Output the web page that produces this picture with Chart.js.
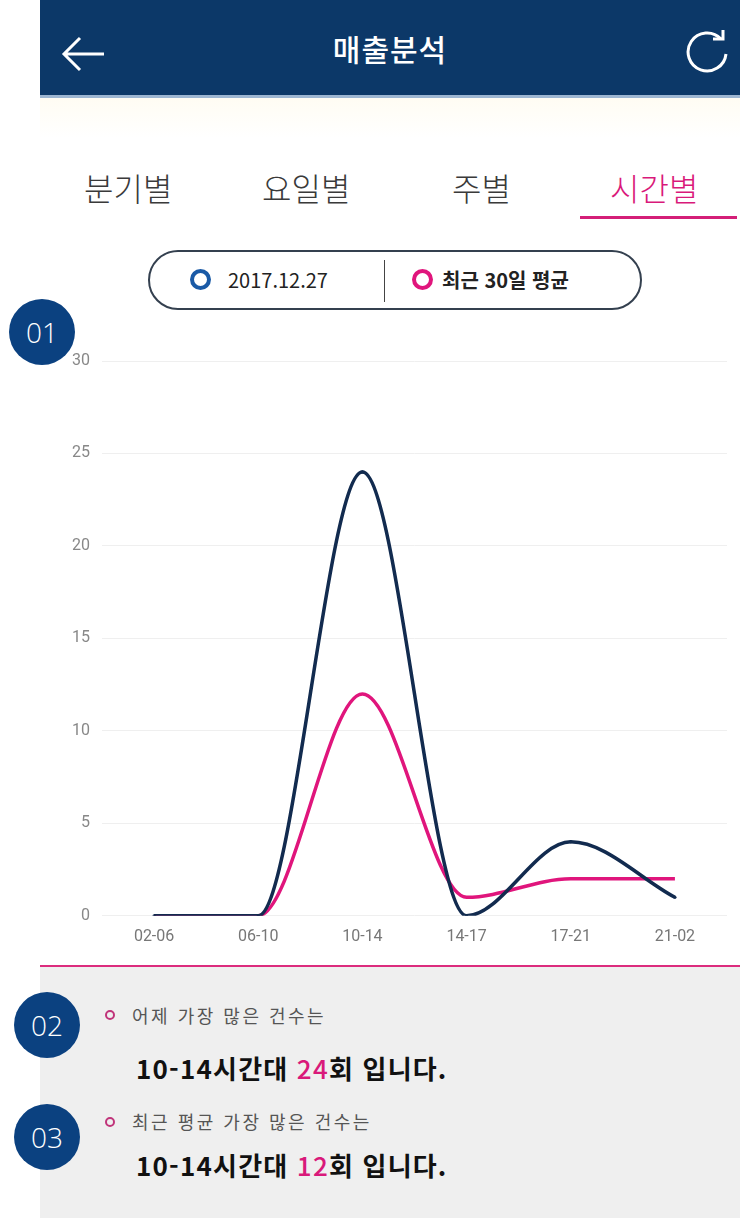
<!DOCTYPE html>
<html lang="ko">
<head>
<meta charset="utf-8">
<script src="https://cdn.jsdelivr.net/npm/chart.js@4"></script>
<style>
  body { margin: 0; width: 740px; height: 1218px; position: relative; background: #fff; overflow: hidden;
         font-family: "Noto Sans CJK KR", "Noto Sans", sans-serif; }
  .header { position: absolute; left: 40px; top: 0; width: 700px; height: 95px; background: #0c3868;
            border-bottom: 3px solid #9db6d2; }
  .header h1 { margin: 0; position: absolute; left: 0; right: 0; top: 28px; text-align: center; color: #fff;
               font-size: 30px; font-weight: 500; line-height: 40px; letter-spacing: 1px; }
  .top-bg { position: absolute; left: 40px; top: 98px; width: 700px; height: 40px;
            background: linear-gradient(#fffcf3, #fff); }
  .tabs div { position: absolute; top: 164px; font-size: 32px; color: #3a3a3a; font-weight: 300; line-height: 46px; }
  .tabs .on { color: #d9197a; }
  .tab-line { position: absolute; left: 580px; top: 216px; width: 157px; height: 3px; background: #d41f78; }
  .legend { position: absolute; left: 148px; top: 250px; width: 490px; height: 56px; border: 2px solid #34404f;
            border-radius: 30px; box-sizing: content-box; }
  .ring { position: absolute; width: 13px; height: 13px; border-radius: 50%; border-width: 4px; border-style: solid; }
  .legend span { position: absolute; top: 14px; font-size: 20px; line-height: 28px; color: #222; }
  .legend .sep { position: absolute; left: 234px; top: 8px; width: 1px; height: 42px; background: #444; }
  .badge { position: absolute; width: 66px; height: 66px; border-radius: 50%; background: #0b4180; color: #fff;
           font-family: "Open Sans", sans-serif; font-size: 28px; line-height: 66px; text-align: center; font-weight: 300; }
  #chart-box { position: absolute; left: 40px; top: 330px; width: 700px; height: 640px; }
  .panel { position: absolute; left: 40px; top: 965px; width: 700px; height: 253px; background: #efefef;
           border-top: 2px solid #dc2c7e; }
  .panel .small { position: absolute; left: 92px; font-size: 18px; color: #555; line-height: 24px; letter-spacing: 2.5px; }
  .panel .big { position: absolute; left: 96px; font-size: 26px; color: #111; font-weight: 700; line-height: 34px; letter-spacing: 1.2px; }
  .panel .big em { font-style: normal; color: #d9197a; font-weight: 500; }
  .dot { position: absolute; left: 65px; width: 6px; height: 6px; border-radius: 50%; border: 2px solid #c0347a; }
</style>
</head>
<body>
<div class="header">
  <svg style="position:absolute;left:20px;top:36px" width="46" height="36" viewBox="0 0 46 36">
    <path d="M44 18 H4 M20 2 L4 18 L20 34" fill="none" stroke="#fff" stroke-width="3"/>
  </svg>
  <h1>매출분석</h1>
  <svg style="position:absolute;left:645px;top:30px" width="46" height="46" viewBox="0 0 46 46">
    <path d="M36 9 A19 19 0 1 0 41 24" fill="none" stroke="#fff" stroke-width="3"/>
    <path d="M28 9 H38 V0" fill="none" stroke="#fff" stroke-width="3"/>
  </svg>
</div>
<div class="top-bg"></div>
<div class="tabs">
  <div style="left:84px">분기별</div>
  <div style="left:262px">요일별</div>
  <div style="left:452px">주별</div>
  <div class="on" style="left:610px">시간별</div>
</div>
<div class="tab-line"></div>
<div class="legend">
  <div class="ring" style="left:40px;top:17px;border-color:#1a5aa6"></div>
  <span style="left:78px">2017.12.27</span>
  <div class="sep"></div>
  <div class="ring" style="left:262px;top:17px;border-color:#e0157c"></div>
  <span style="left:292px;font-weight:700">최근 30일 평균</span>
</div>
<div id="chart-box"><canvas id="chart"></canvas></div>
<div class="badge" style="left:9px;top:299px">01</div>
<div class="panel">
  <div class="dot" style="top:43px"></div>
  <div class="small" style="top:36px">어제 가장 많은 건수는</div>
  <div class="big" style="top:84px">10-14시간대 <em>24</em>회 입니다.</div>
  <div class="dot" style="top:150px"></div>
  <div class="small" style="top:142px">최근 평균 가장 많은 건수는</div>
  <div class="big" style="top:181px">10-14시간대 <em>12</em>회 입니다.</div>
</div>
<div class="badge" style="left:14px;top:992px">02</div>
<div class="badge" style="left:14px;top:1104px">03</div>

<script>
const hours = ['02-06', '06-10', '10-14', '14-17', '17-21', '21-02'];
const yesterday = [0, 0, 24, 0, 4, 1];
const monthAvg = [0, 0, 12, 1, 2, 2];
const yTicks = [0, 5, 10, 15, 20, 25, 30];

const ctx = document.getElementById('chart').getContext('2d');
new Chart(ctx, {
    type: 'line',
    data: {
        labels: hours,
        datasets: [
            {
                label: '2017.12.27',
                data: yesterday,
                borderColor: '#122b4f',
                backgroundColor: '#122b4f',
                borderWidth: 3.5,
                pointRadius: 1.6,
                pointBorderWidth: 0,
                cubicInterpolationMode: 'monotone',
                fill: false
            },
            {
                label: '최근 30일 평균',
                data: monthAvg,
                borderColor: '#e0157c',
                backgroundColor: '#e0157c',
                borderWidth: 3.5,
                pointRadius: 0,
                cubicInterpolationMode: 'monotone',
                fill: false
            }
        ]
    },
    options: {
        responsive: true,
        maintainAspectRatio: false,
        animation: false,
        layout: { padding: { top: 31, right: 13, bottom: 19, left: 0 } },
        plugins: { legend: { display: false }, tooltip: { enabled: false } },
        scales: {
            x: {
                offset: true,
                grid: { display: false },
                border: { display: false },
                ticks: { color: '#777', font: { family: 'Roboto', size: 16 }, padding: 4, maxRotation: 0 }
            },
            y: {
                min: 0,
                max: 30,
                afterBuildTicks: axis => { axis.ticks = yTicks.map(v => ({ value: v })); },
                afterFit: axis => { axis.width = 62; },
                grid: { color: '#efefef', drawTicks: false },
                border: { display: false },
                ticks: { color: '#888', font: { family: 'Roboto', size: 16 }, padding: 12 }
            }
        }
    }
});
</script>
</body>
</html>
